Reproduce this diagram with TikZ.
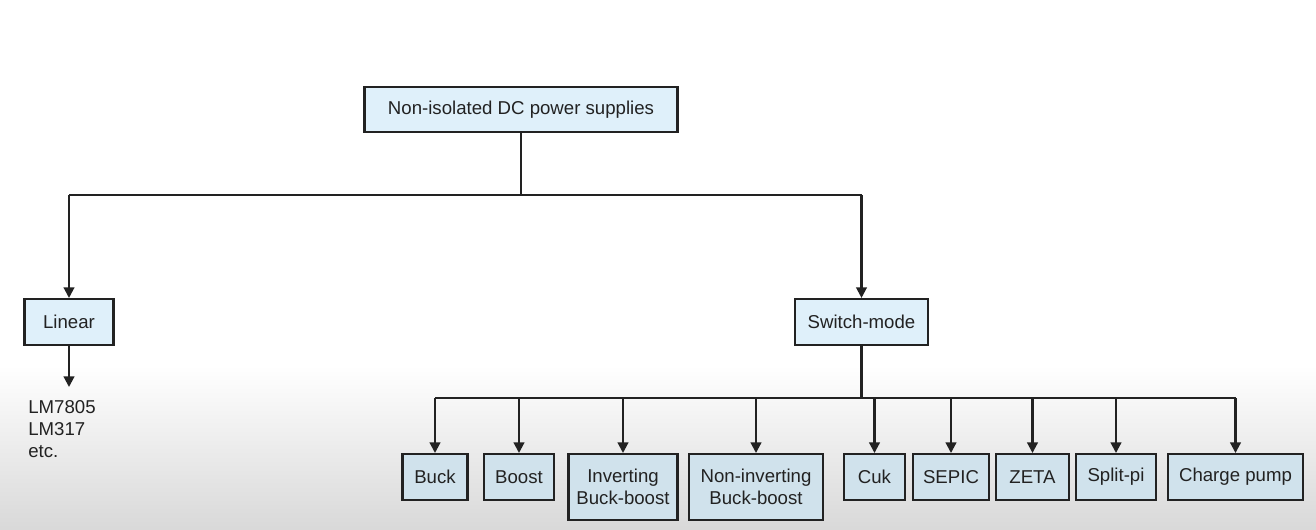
\documentclass[tikz,border=0pt]{standalone}
\usepackage{fontspec}
\setmainfont{Liberation Sans}
\usetikzlibrary{arrows.meta,positioning}
\definecolor{BoxBlue}{HTML}{DFF0FA}
\definecolor{LeafBlue}{HTML}{D0E2EC}
\definecolor{InkGray}{HTML}{222222}

\begin{document}
\begin{tikzpicture}[x=0.02cm,y=-0.02cm]
  \tikzset{BoxStyle/.style  = {draw           = InkGray,
                               fill           = BoxBlue,
                               line width     = 1.2pt,
                               text           = InkGray,
                               inner sep      = 0pt,
                               align          = center,
                               minimum height = 0.92cm,
                               font           = \fontsize{10.6}{12.5}\selectfont}}
  \tikzset{LeafStyle/.style = {BoxStyle,
                               fill           = LeafBlue,
                               anchor         = north}}
  \tikzset{EdgeStyle/.style = {draw           = InkGray,
                               line width     = 1.2pt}}
  \tikzset{ArrowStyle/.style = {EdgeStyle,
                               -{Triangle[length=6pt,width=6pt]}}}

% background
\fill[white] (0,0) rectangle (1316,529);
\shade[top color=white,bottom color=gray!30] (0,365) rectangle (1316,529);

% upper level
\node[BoxStyle, minimum width=6.26cm, minimum height=0.9cm] (Top) at (521,109.5) {Non-isolated DC power supplies};
\node[BoxStyle, minimum width=1.78cm] (Linear) at (69,322) {Linear};
\node[BoxStyle, minimum width=2.66cm] (Switch) at (861.5,322) {Switch-mode};
\node[text=InkGray, align=left, anchor=north west, inner sep=0pt,
      font=\fontsize{10.6}{12.6}\selectfont] (Examples) at (28,400) {LM7805\\LM317\\etc.};

% lower level
\node[LeafStyle, minimum width=1.30cm] (Buck)   at (435,453) {Buck};
\node[LeafStyle, minimum width=1.40cm] (Boost)  at (519,453) {Boost};
\node[LeafStyle, minimum width=2.18cm, minimum height=1.32cm] (InvBB) at (623,453) {Inverting\\Buck-boost};
\node[LeafStyle, minimum width=2.68cm, minimum height=1.32cm] (NonInvBB) at (756,453) {Non-inverting\\Buck-boost};
\node[LeafStyle, minimum width=1.22cm] (Cuk)    at (874.5,453) {Cuk};
\node[LeafStyle, minimum width=1.52cm] (Sepic)  at (951,453) {SEPIC};
\node[LeafStyle, minimum width=1.46cm] (Zeta)   at (1032.5,453) {ZETA};
\node[LeafStyle, minimum width=1.60cm] (SplitPi) at (1116,453) {Split-pi};
\node[LeafStyle, minimum width=2.70cm] (Charge) at (1235.5,453) {Charge pump};

\coordinate (TopBus) at (0,195);
\coordinate (LowBus) at (0,398);
\coordinate (LinTip) at (0,387);

% upper tree
\draw[EdgeStyle] (Top.south) -- (Top.south |- TopBus);
\draw[EdgeStyle] (Linear.north |- TopBus) -- (Switch.north |- TopBus);
\draw[ArrowStyle] (Linear.north |- TopBus) -- (Linear.north);
\draw[ArrowStyle] (Switch.north |- TopBus) -- (Switch.north);
\draw[ArrowStyle] (Linear.south) -- (Linear.south |- LinTip);

% lower tree
\draw[EdgeStyle] (Switch.south) -- (Switch.south |- LowBus);
\draw[EdgeStyle] (Buck.north |- LowBus) -- (Charge.north |- LowBus);
\draw[ArrowStyle] (Buck.north |- LowBus) -- (Buck.north);
\draw[ArrowStyle] (Boost.north |- LowBus) -- (Boost.north);
\draw[ArrowStyle] (InvBB.north |- LowBus) -- (InvBB.north);
\draw[ArrowStyle] (NonInvBB.north |- LowBus) -- (NonInvBB.north);
\draw[ArrowStyle] (Cuk.north |- LowBus) -- (Cuk.north);
\draw[ArrowStyle] (Sepic.north |- LowBus) -- (Sepic.north);
\draw[ArrowStyle] (Zeta.north |- LowBus) -- (Zeta.north);
\draw[ArrowStyle] (SplitPi.north |- LowBus) -- (SplitPi.north);
\draw[ArrowStyle] (Charge.north |- LowBus) -- (Charge.north);
\end{tikzpicture}
\end{document}
